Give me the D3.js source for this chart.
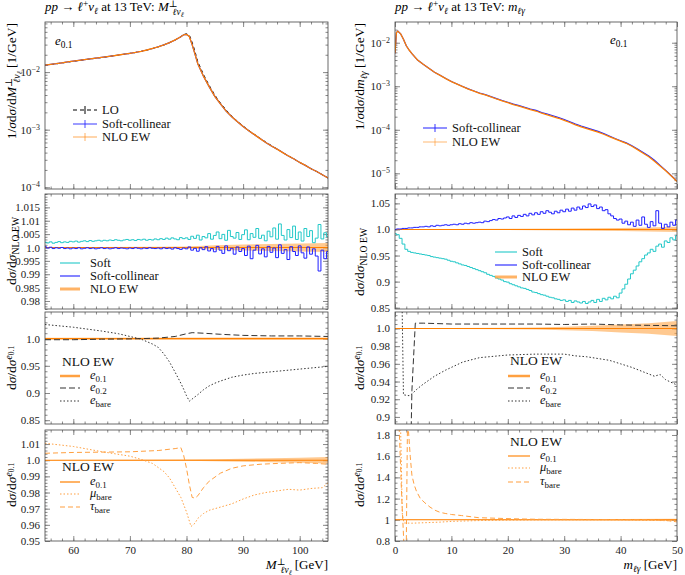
<!DOCTYPE html>
<html>
<head>
<meta charset="utf-8">
<script src="https://cdn.jsdelivr.net/npm/d3@7"></script>
<style>
body { margin: 0; background: #fff; }
svg, text, tspan { font-family: "Liberation Serif", "DejaVu Serif", serif; }
</style>
</head>
<body>
<script>
// ---- data ----
// top left: 1/sigma dsigma/dM_T
var mtX   = [55,56,57,58,59,60,61,62,63,64,65,66,67,68,69,70,71,72,73,74,75,76,77,78,79,79.5,80,80.5,81,81.5,82,83,84,85,86,87,88,89,90,91,92,93,94,95,96,97,98,99,100,101,102,103,104,105];
var mtNLO = [.0132,.0136,.0140,.0145,.0150,.0155,.0160,.0165,.0170,.0175,.0180,.0186,.0192,.0198,.0205,.0212,.0220,.0230,.0242,.0257,.0275,.0297,.0325,.0362,.0410,.0445,.0452,.0415,.0300,.0205,.0140,.0085,.0056,.0038,.0028,.0021,.00168,.00137,.00114,.00096,.00082,.00070,.00060,.00052,.00046,.00040,.00035,.00031,.00027,.00024,.00021,.000188,.000165,.000145];
var mtSC  = [.0132,.0136,.0140,.0145,.0150,.0155,.0160,.0165,.0170,.0175,.0180,.0186,.0192,.0198,.0205,.0212,.0220,.0230,.0242,.0257,.0275,.0297,.0325,.0362,.0410,.0445,.0452,.0415,.0300,.0205,.0140,.0085,.0056,.0038,.0028,.0021,.00168,.00137,.00114,.00096,.00082,.00070,.00060,.00052,.00046,.00040,.00035,.00031,.00027,.00024,.00021,.000188,.000165,.000145];
var mtLO  = [.0131,.0135,.0139,.0144,.0149,.0154,.0159,.0164,.0169,.0174,.0179,.0185,.0191,.0197,.0204,.0211,.0219,.0229,.0241,.0256,.0274,.0296,.0324,.0361,.0412,.0450,.0462,.0440,.0330,.0228,.0152,.0091,.0059,.0040,.0029,.0022,.00172,.00140,.00116,.00097,.00083,.00071,.00061,.00053,.00046,.00040,.00035,.00031,.00027,.00024,.00021,.000188,.000165,.000145];

// top right: 1/sigma dsigma/dm_lgamma
var mlgX   = [0,0.25,0.5,1,1.5,2,2.5,3,4,5,6,7,8,9,10,11,12,13,14,15,16,17,18,19,20,21,22,23,24,25,26,27,28,29,30,31,32,33,34,35,36,37,38,39,40,41,42,43,44,45,46,47,48,49,50];
var mlgNLO = [.0057,.0170,.0185,.0160,.0120,.0085,.0068,.0056,.0040,.0032,.0026,.0021,.00178,.00150,.00128,.00112,.00098,.00086,.00077,.00069,.00063,.00057,.00051,.00046,.00042,.00038,.00035,.00032,.00029,.00027,.00024,.00022,.00020,.000184,.000165,.000147,.000130,.000117,.000106,.000097,.000088,.000079,.000070,.000062,.000055,.000049,.000042,.000035,.000029,.000024,.000019,.0000148,.0000115,.0000087,.0000065];
var mlgSC  = [.0057,.0170,.0185,.0160,.0120,.0085,.0068,.0056,.0040,.0032,.0026,.0021,.00179,.00151,.00129,.00113,.00099,.00087,.00078,.00070,.00064,.00058,.00052,.00047,.00043,.00039,.00036,.00033,.00030,.00028,.00025,.00023,.00021,.000192,.000172,.000153,.000136,.000122,.000111,.000101,.000092,.000082,.000072,.000063,.000056,.000050,.000043,.000036,.000030,.000025,.000020,.0000152,.0000117,.0000088,.0000066];

// ratio to NLO EW, left (M_T, 0.5 GeV bins 55..105)
var mtSoft = [
  1.0020,1.0017,1.0021,1.0016,1.0019,1.0022,1.0018,1.0021,1.0019,1.0023,
  1.0021,1.0024,1.0020,1.0023,1.0025,1.0022,1.0026,1.0023,1.0025,1.0027,
  1.0024,1.0027,1.0025,1.0028,1.0026,1.0029,1.0027,1.0025,1.0028,1.0030,
  1.0027,1.0029,1.0026,1.0030,1.0028,1.0031,1.0027,1.0030,1.0028,1.0032,
  1.0029,1.0033,1.0030,1.0035,1.0031,1.0036,1.0032,1.0029,1.0037,1.0033,
  1.0036,1.0030,1.0042,1.0034,1.0046,1.0028,1.0041,1.0036,1.0052,1.0031,
  1.0045,1.0058,1.0033,1.0049,1.0027,1.0064,1.0041,1.0035,1.0056,1.0030,
  1.0048,1.0066,1.0029,1.0052,1.0038,1.0071,1.0034,1.0046,1.0025,1.0061,
  1.0040,1.0073,1.0031,1.0088,1.0045,1.0028,1.0067,1.0037,1.0080,1.0030,
  1.0058,1.0024,1.0071,1.0041,1.0063,1.0018,1.0035,1.0086,1.0032,1.0055,
  1.0040];
var mtSoftColl = [
  1.0003,0.9998,1.0001,0.9996,0.9999,0.9997,1.0000,0.9996,0.9998,0.9995,
  0.9998,0.9996,0.9999,0.9995,0.9997,0.9999,0.9996,0.9998,0.9995,0.9997,
  0.9999,0.9996,0.9998,0.9995,0.9997,0.9999,0.9996,0.9998,0.9997,0.9995,
  0.9998,0.9996,0.9999,0.9997,0.9995,0.9998,0.9996,0.9999,0.9997,0.9996,
  0.9998,0.9995,0.9999,0.9996,0.9998,0.9994,0.9999,0.9996,0.9993,0.9998,
  0.9995,1.0002,0.9990,0.9997,0.9986,0.9999,0.9992,1.0003,0.9987,0.9996,
  0.9984,1.0004,0.9990,0.9978,1.0006,0.9988,0.9997,0.9975,1.0002,0.9985,
  0.9996,0.9970,1.0005,0.9958,0.9990,1.0008,0.9976,0.9995,0.9965,1.0004,
  0.9982,0.9998,0.9962,1.0010,0.9978,0.9992,0.9955,1.0003,0.9985,0.9970,
  1.0006,0.9980,0.9960,1.0002,0.9975,0.9995,0.9968,0.9912,0.9990,0.9958,
  0.9985];
var mtErrX = [55,65,75,80,85,90,95,100,105];
var mtErr  = [0.0002,0.0002,0.0003,0.0004,0.0008,0.0011,0.0013,0.0015,0.0017];

// ratio to NLO EW, right (m_lgamma, 0.5 GeV bins 0..50)
var mlgSoft = [
  0.992,0.990,0.983,0.972,0.962,0.958,0.956,0.955,0.954,0.953,
  0.952,0.951,0.950,0.948,0.947,0.946,0.945,0.944,0.943,0.941,
  0.939,0.938,0.936,0.934,0.932,0.931,0.929,0.927,0.925,0.923,
  0.921,0.919,0.917,0.914,0.912,0.910,0.907,0.905,0.903,0.900,
  0.899,0.896,0.894,0.892,0.890,0.888,0.887,0.885,0.883,0.880,
  0.879,0.877,0.875,0.874,0.872,0.870,0.869,0.867,0.866,0.864,
  0.865,0.862,0.864,0.860,0.863,0.861,0.859,0.862,0.858,0.861,
  0.864,0.860,0.866,0.862,0.868,0.865,0.870,0.867,0.872,0.869,
  0.878,0.886,0.895,0.905,0.915,0.922,0.930,0.938,0.944,0.951,
  0.955,0.962,0.958,0.968,0.972,0.966,0.978,0.975,0.984,0.980,
  0.988];
var mlgSoftColl = [
  1.000,1.001,1.001,1.002,1.002,1.003,1.003,1.004,1.004,1.005,
  1.005,1.006,1.005,1.007,1.006,1.008,1.007,1.008,1.009,1.008,
  1.009,1.010,1.009,1.011,1.010,1.012,1.011,1.013,1.012,1.013,
  1.014,1.013,1.016,1.015,1.017,1.019,1.018,1.021,1.020,1.022,
  1.024,1.021,1.026,1.023,1.027,1.025,1.029,1.026,1.031,1.028,
  1.032,1.029,1.034,1.031,1.036,1.033,1.030,1.035,1.032,1.037,
  1.034,1.039,1.035,1.041,1.037,1.043,1.039,1.045,1.042,1.049,
  1.044,1.047,1.040,1.043,1.036,1.038,1.030,1.026,1.021,1.018,
  1.020,1.012,1.016,1.009,1.014,1.006,1.018,1.008,1.024,1.010,
  1.004,1.015,1.007,1.036,1.012,1.002,1.010,1.005,1.014,1.008,
  1.018];
var mlgErrX = [0,10,20,30,35,40,45,50];
var mlgErr  = [0.0005,0.0008,0.0012,0.0018,0.0025,0.003,0.004,0.005];

// ratio to e_0.1, left
var eL02X    = [55,60,65,70,72,75,78,80,81,83,86,90,95,100,105];
var eL02     = [0.998,0.998,0.999,0.9995,1.0,1.001,1.004,1.009,1.011,1.010,1.008,1.006,1.005,1.005,1.004];
var eLbareX  = [55,60,65,68,70,72,74,75,76,77,78,79,79.5,80,80.5,81,82,83,84,85,86,88,90,92,94,96,98,100,102,104,105];
var eLbare   = [1.026,1.021,1.014,1.009,1.004,0.999,0.990,0.984,0.972,0.957,0.938,0.918,0.907,0.895,0.885,0.889,0.897,0.906,0.913,0.918,0.922,0.929,0.933,0.936,0.938,0.940,0.942,0.944,0.946,0.948,0.949];
var eLErrX   = [55,105];
var eLErr    = [0.0015,0.002];

// ratio to e_0.1, right
var eR02X    = [0.5,2.6,3.0,3.6,5,10,15,20,25,30,35,40,45,50];
var eR02     = [0.80,0.80,0.93,1.006,1.006,1.005,1.005,1.005,1.005,1.0045,1.005,1.004,1.0035,1.003];
var eRbareX  = [0.5,1.2,1.5,2.5,3,4,5,7,9,12,15,20,25,30,32,34,36,38,40,42,44,46,47,48,50];
var eRbare   = [1.05,1.05,0.925,0.924,0.926,0.932,0.937,0.946,0.953,0.962,0.967,0.970,0.971,0.971,0.969,0.968,0.966,0.964,0.960,0.956,0.951,0.946,0.948,0.942,0.936];
var eRErrX   = [0,10,20,25,30,35,40,45,50];
var eRErr    = [0.0003,0.0005,0.0008,0.0012,0.002,0.003,0.0045,0.006,0.0085];

// lepton flavours, left
var muLX  = [55,60,65,70,72,74,76,77,78,79,80,80.8,81.5,82,83,84,86,88,90,92,94,96,98,100,102,104,105];
var muL   = [1.0105,1.0085,1.0053,1.0025,1.0005,0.998,0.993,0.989,0.983,0.977,0.968,0.959,0.961,0.964,0.967,0.969,0.971,0.973,0.976,0.9785,0.980,0.981,0.982,0.9815,0.9825,0.983,0.986];
var tauLX = [55,60,65,70,75,78,79,79.5,80,80.5,81,81.5,82,83,84,86,88,90,93,96,100,103,105];
var tauL  = [1.0043,1.0048,1.005,1.0052,1.006,1.0072,1.0078,1.003,0.995,0.985,0.977,0.9765,0.978,0.983,0.987,0.992,0.995,0.9965,0.9975,0.998,0.9985,0.998,0.9975];
var flErrLX = [55,70,80,85,90,95,100,105];
var flErrL  = [0.0002,0.0003,0.0004,0.0006,0.0009,0.0012,0.0015,0.002];

// lepton flavours, right
var muRX  = [0.25,1.0,1.3,1.6,3,5,8,10,15,20,25,30,35,40,45,50];
var muR   = [1.85,1.85,1.05,0.97,0.968,0.972,0.978,0.985,0.993,0.997,0.999,1.0,1.0,1.0,0.995,0.99];
var tauRX = [0.25,0.75,1.2,1.6,2.0,2.2,2.4,2.7,3.0,3.4,3.8,4.5,5.3,6.2,7.1,8.0,8.9,10,11.8,14.8,20.7,25,30,35,40,45,48,50];
var tauR  = [1.85,1.85,1.2,0.75,0.75,1.85,1.83,1.6,1.42,1.33,1.27,1.20,1.16,1.12,1.09,1.07,1.06,1.05,1.04,1.02,1.01,1.005,1.004,1.003,1.002,1.0,0.995,0.98];
var flErrRX = [0,10,20,30,40,50];
var flErrR  = [0.002,0.003,0.004,0.006,0.008,0.01];

// tick labels
var p2LTicks = [0.98,0.985,0.99,0.995,1.0,1.005,1.01,1.015];
var p2LLabels = ['0.98','0.985','0.99','0.995','1.0','1.005','1.01','1.015'];
var p2RTicks = [0.85,0.9,0.95,1.0,1.05];
var p2RLabels = ['0.85','0.9','0.95','1.0','1.05'];
var p3LTicks = [0.85,0.9,0.95,1.0];
var p3LLabels = ['0.85','0.9','0.95','1.0'];
var p3RTicks = [0.9,0.92,0.94,0.96,0.98,1.0];
var p3RLabels = ['0.9','0.92','0.94','0.96','0.98','1.0'];
var p4LTicks = [0.95,0.96,0.97,0.98,0.99,1.0,1.01];
var p4LLabels = ['0.95','0.96','0.97','0.98','0.99','1.0','1.01'];
var p4RTicks = [0.8,1,1.2,1.4,1.6,1.8];
var p4RLabels = ['0.8','1','1.2','1.4','1.6','1.8'];

// ---- layout ----
var W = 685, H = 575;
var FONT = '"Liberation Serif", "DejaVu Serif", serif';
var colL = {x0: 45, x1: 328, dom: [55, 105], ticks: [60,70,80,90,100], minor: 2};
var colR = {x0: 395, x1: 677, dom: [0, 50], ticks: [0,10,20,30,40,50], minor: 2};
var rows = [[22,189],[194,309],[312,424],[430,541]];

var cOrange = '#ff8000', cBand = 'rgba(255,165,70,0.6)', cLight = '#ffa040',
    cBlue = '#1f1fff', cCyan = '#22c8c8', cGray = '#333';

var svg = d3.select('body').append('svg').attr('width', W).attr('height', H)
  .attr('font-family', FONT);
var clipCount = 0;

function minorTicks(dom, step) {
  var out = [];
  for (var k = Math.ceil(dom[0] / step - 1e-9); k * step <= dom[1] + 1e-9; k++) out.push(+(k * step).toFixed(6));
  return out;
}
function logMinor(dom) {
  var out = [];
  for (var e = Math.floor(Math.log10(dom[0])); e <= Math.ceil(Math.log10(dom[1])); e++)
    for (var m = 1; m < 10; m++) { var v = m * Math.pow(10, e); if (v >= dom[0] && v <= dom[1]) out.push(v); }
  return out;
}

// text with italic / sub / sup pieces
function rich(t, parts) {
  var cur = 0;
  t.attr('font-family', FONT);
  parts.forEach(function(p) {
    var off = p.o || 0;
    var s = t.append('tspan').text(p.t).attr('dy', off - cur);
    cur = off;
    if (p.i) s.attr('font-style', 'italic');
    if (p.f) s.attr('font-size', p.f);
    if (p.dx) s.attr('dx', p.dx);
  });
  return t;
}

function panel(col, row, yc, showX) {
  var x = d3.scaleLinear().domain(col.dom).range([col.x0, col.x1]);
  var y = (yc.log ? d3.scaleLog() : d3.scaleLinear()).domain(yc.dom).range([row[1], row[0]]);
  var g = svg.append('g');
  var id = 'clip' + (clipCount++);
  g.append('clipPath').attr('id', id).append('rect')
    .attr('x', col.x0).attr('y', row[0]).attr('width', col.x1 - col.x0).attr('height', row[1] - row[0]);

  var yMinor = yc.log ? logMinor(yc.dom) : minorTicks(yc.dom, yc.minor);
  var xMinor = minorTicks(col.dom, col.minor);
  var blank = function() { return ''; };

  function ax(axis, tr, vals, size, fmt, pad) {
    var a = g.append('g').attr('transform', tr)
      .call(axis.tickValues(vals).tickSize(size).tickPadding(pad || 4).tickFormat(fmt || blank));
    a.select('.domain').remove();
    a.attr('font-family', FONT).attr('font-size', 11);
    a.selectAll('line').attr('stroke', '#8a8a8a');
    a.selectAll('text').attr('fill', '#222');
    return a;
  }
  // y axes (left labelled, right mirrored)
  var yl = ax(d3.axisLeft(y), 'translate(' + col.x0 + ',0)', yc.ticks, -5,
    function(d, i) { return yc.log ? '10' : yc.labels[i]; }, 5);
  if (yc.log) {
    yl.selectAll('.tick text').each(function(d) {
      var e = Math.round(Math.log10(d));
      d3.select(this).append('tspan').attr('dy', -4).attr('font-size', '0.72em').text('\u2212' + (-e));
    });
  }
  ax(d3.axisLeft(y), 'translate(' + col.x0 + ',0)', yMinor, -2.5);
  ax(d3.axisRight(y), 'translate(' + col.x1 + ',0)', yc.ticks, -5);
  ax(d3.axisRight(y), 'translate(' + col.x1 + ',0)', yMinor, -2.5);
  // x axes
  ax(d3.axisBottom(x), 'translate(0,' + row[1] + ')', col.ticks, -5,
    showX ? function(d) { return d; } : blank, 5);
  ax(d3.axisBottom(x), 'translate(0,' + row[1] + ')', xMinor, -2.5);
  ax(d3.axisTop(x), 'translate(0,' + row[0] + ')', col.ticks, -5);
  ax(d3.axisTop(x), 'translate(0,' + row[0] + ')', xMinor, -2.5);

  var plot = g.append('g').attr('clip-path', 'url(#' + id + ')');
  var frame = function() {
    g.append('rect').attr('x', col.x0).attr('y', row[0])
      .attr('width', col.x1 - col.x0).attr('height', row[1] - row[0])
      .attr('fill', 'none').attr('stroke', '#444').attr('stroke-width', 0.8);
  };
  return {x: x, y: y, g: g, plot: plot, frame: frame, col: col, row: row};
}

function series(p, xs, ys, stroke, opt) {
  opt = opt || {};
  var pts = xs.map(function(d, i) { return [d, ys[i]]; });
  p.plot.append('path').datum(pts)
    .attr('fill', 'none').attr('stroke', stroke)
    .attr('stroke-width', opt.w || 1)
    .attr('stroke-dasharray', opt.dash || null)
    .attr('d', d3.line().curve(opt.step ? d3.curveStep : d3.curveLinear)
      .x(function(d) { return p.x(d[0]); }).y(function(d) { return p.y(d[1]); }));
}
function band(p, xs, errs) {
  var pts = xs.map(function(d, i) { return [d, errs[i]]; });
  p.plot.append('path').datum(pts).attr('fill', cBand)
    .attr('d', d3.area().x(function(d) { return p.x(d[0]); })
      .y0(function(d) { return p.y(1 - d[1]); }).y1(function(d) { return p.y(1 + d[1]); }));
  p.plot.append('path').datum(p.x.domain())
    .attr('stroke', cOrange).attr('stroke-width', 1.1).attr('fill', 'none')
    .attr('d', function(d) { return 'M' + p.x(d[0]) + ',' + p.y(1) + 'H' + p.x(d[1]); });
}

// legend pieces; y is the row centre
function legLine(g, x, y, w, stroke, opt) {
  opt = opt || {};
  g.append('line').attr('x1', x).attr('x2', x + w).attr('y1', y).attr('y2', y)
    .attr('stroke', stroke).attr('stroke-width', opt.w || 1.1)
    .attr('stroke-dasharray', opt.dash || null).attr('stroke-opacity', opt.op || 1);
  if (opt.err) g.append('line').attr('x1', x + w / 2).attr('x2', x + w / 2)
    .attr('y1', y - 4).attr('y2', y + 4).attr('stroke', stroke).attr('stroke-opacity', opt.op || 1);
}
function legText(g, x, y, parts, size) {
  return rich(g.append('text').attr('x', x).attr('y', y + 4).attr('font-size', size || 12.5).attr('fill', '#111'), parts);
}
function legend(g, xl, xt, w, title, rowsY, items) {
  if (title) legText(g, xl + 2, title, [{t: 'NLO EW'}], 13.5).attr('y', title + 4);
  items.forEach(function(it, i) {
    legLine(g, xl, rowsY[i], w, it.c, it.opt);
    legText(g, xt, rowsY[i] - (it.sub ? 1 : 0), it.parts);
  });
}

function sub(t, it) { return {t: t, o: 3, f: '0.72em', i: it}; }
function sup(t, it) { return {t: t, o: -4.5, f: '0.72em', i: it}; }
var e01 = [{t: 'e', i: 1}, sub('0.1')], e02 = [{t: 'e', i: 1}, sub('0.2')], ebare = [{t: 'e', i: 1}, sub('bare')];
var mubare = [{t: '\u03bc', i: 1}, sub('bare')], taubare = [{t: '\u03c4', i: 1}, sub('bare')];

// ---- panels ----
// 1 left
var p = panel(colL, rows[0], {log: true, dom: [Math.pow(10, -4.03), Math.pow(10, -1.13)], ticks: [1e-4, 1e-3, 1e-2]});
series(p, mtX, mtLO, '#000', {dash: '3,3'});
series(p, mtX, mtSC, cBlue, {w: 1.2});
series(p, mtX, mtNLO, cOrange, {w: 1.3});
p.frame();
rich(p.g.append('text').attr('x', 55).attr('y', 45).attr('font-size', 13), e01);
legend(p.g, 73, 102, 24, null, [110, 124, 137], [
  {c: '#000', opt: {dash: '4,3', err: 1}, parts: [{t: 'LO'}]},
  {c: cBlue, opt: {err: 1, op: 0.8}, parts: [{t: 'Soft-collinear'}]},
  {c: cOrange, opt: {err: 1, op: 0.6}, parts: [{t: 'NLO EW'}]}]);

// 1 right
p = panel(colR, rows[0], {log: true, dom: [Math.pow(10, -5.36), Math.pow(10, -1.524)], ticks: [1e-5, 1e-4, 1e-3, 1e-2]});
series(p, mlgX, mlgSC, cBlue, {w: 1.2});
series(p, mlgX, mlgNLO, cOrange, {w: 1.3});
p.frame();
rich(p.g.append('text').attr('x', 610).attr('y', 44).attr('font-size', 13), e01);
legend(p.g, 423, 452, 24, null, [128, 142], [
  {c: cBlue, opt: {err: 1, op: 0.9}, parts: [{t: 'Soft-collinear'}]},
  {c: cOrange, opt: {err: 1, op: 0.5}, parts: [{t: 'NLO EW'}]}]);

// 2 left
var rX = d3.range(0, 101).map(function(i) { return 55 + i * 0.5; });
p = panel(colL, rows[1], {dom: [0.977, 1.020], ticks: p2LTicks, labels: p2LLabels, minor: 0.001});
band(p, mtErrX, mtErr);
series(p, rX, mtSoft, cCyan, {step: 1});
series(p, rX, mtSoftColl, cBlue, {step: 1});
p.frame();
legend(p.g, 60, 90, 20, null, [263, 276, 289], [
  {c: cCyan, parts: [{t: 'Soft'}]},
  {c: cBlue, parts: [{t: 'Soft-collinear'}]},
  {c: cLight, opt: {w: 3, op: 0.8}, parts: [{t: 'NLO EW'}]}]);

// 2 right
var rXr = d3.range(0, 101).map(function(i) { return i * 0.5; });
p = panel(colR, rows[1], {dom: [0.8475, 1.068], ticks: p2RTicks, labels: p2RLabels, minor: 0.01});
band(p, mlgErrX, mlgErr);
series(p, rXr, mlgSoft, cCyan, {step: 1});
series(p, rXr, mlgSoftColl, cBlue, {step: 1});
p.frame();
legend(p.g, 495, 522, 22, null, [252, 265, 277], [
  {c: cCyan, parts: [{t: 'Soft'}]},
  {c: cBlue, parts: [{t: 'Soft-collinear'}]},
  {c: cLight, opt: {w: 3, op: 0.8}, parts: [{t: 'NLO EW'}]}]);

// 3 left
p = panel(colL, rows[2], {dom: [0.843, 1.049], ticks: p3LTicks, labels: p3LLabels, minor: 0.01});
band(p, eLErrX, eLErr);
series(p, eL02X, eL02, cGray, {dash: '6,3'});
series(p, eLbareX, eLbare, cGray, {dash: '1.5,2'});
p.frame();
legend(p.g, 60, 90, 20, 362, [376, 388, 401], [
  {c: cLight, opt: {w: 2.5}, parts: e01, sub: 1},
  {c: cGray, opt: {dash: '6,3'}, parts: e02, sub: 1},
  {c: cGray, opt: {dash: '1.5,2'}, parts: ebare, sub: 1}]);

// 3 right
p = panel(colR, rows[2], {dom: [0.892, 1.0186], ticks: p3RTicks, labels: p3RLabels, minor: 0.005});
band(p, eRErrX, eRErr);
series(p, eR02X, eR02, cGray, {dash: '6,3'});
series(p, eRbareX, eRbare, cGray, {dash: '1.5,2'});
p.frame();
legend(p.g, 508, 540, 22, 361, [376, 388, 401], [
  {c: cLight, opt: {w: 2.5}, parts: e01, sub: 1},
  {c: cGray, opt: {dash: '6,3'}, parts: e02, sub: 1},
  {c: cGray, opt: {dash: '1.5,2'}, parts: ebare, sub: 1}]);

// 4 left
p = panel(colL, rows[3], {dom: [0.95, 1.0187], ticks: p4LTicks, labels: p4LLabels, minor: 0.002}, true);
band(p, flErrLX, flErrL);
series(p, muLX, muL, cLight, {dash: '1.5,2'});
series(p, tauLX, tauL, cLight, {dash: '5,3'});
p.frame();
legend(p.g, 60, 90, 20, 467, [482, 494, 507], [
  {c: cOrange, opt: {w: 1.2}, parts: e01, sub: 1},
  {c: cLight, opt: {dash: '1.5,2'}, parts: mubare, sub: 1},
  {c: cLight, opt: {dash: '5,3'}, parts: taubare, sub: 1}]);

// 4 right
p = panel(colR, rows[3], {dom: [0.8, 1.847], ticks: p4RTicks, labels: p4RLabels, minor: 0.05}, true);
band(p, flErrRX, flErrR);
series(p, muRX, muR, cLight, {dash: '1.5,2'});
series(p, tauRX, tauR, cLight, {dash: '5,3'});
p.frame();
legend(p.g, 508, 540, 22, 442, [456, 468, 482], [
  {c: cLight, opt: {w: 1.5}, parts: e01, sub: 1},
  {c: cLight, opt: {dash: '1.5,2'}, parts: mubare, sub: 1},
  {c: cLight, opt: {dash: '5,3'}, parts: taubare, sub: 1}]);

// ---- titles and axis labels ----
var mtLabel = [{t: 'M', i: 1}, sup('\u22a5'), {t: '\u2113\u03bd', i: 1, o: 3.5, f: '0.72em', dx: -5}, {t: '\u2113', i: 1, o: 5.5, f: '0.55em'}];
var mlgLabel = [{t: 'm', i: 1}, sub('\u2113\u03b3', 1)];
var proc = [{t: 'pp', i: 1}, {t: ' \u2192 '}, {t: '\u2113', i: 1}, sup('+'), {t: '\u03bd', i: 1}, sub('\u2113', 1)];

rich(svg.append('text').attr('x', 45).attr('y', 11).attr('font-size', 13),
  proc.concat([{t: ' at 13 TeV: '}]).concat(mtLabel));
rich(svg.append('text').attr('x', 395).attr('y', 11).attr('font-size', 13),
  proc.concat([{t: ' at 13 TeV: '}]).concat(mlgLabel));

rich(svg.append('text').attr('x', 328).attr('y', 569).attr('text-anchor', 'end').attr('font-size', 13),
  mtLabel.concat([{t: ' [GeV]'}]));
rich(svg.append('text').attr('x', 677).attr('y', 569).attr('text-anchor', 'end').attr('font-size', 13),
  mlgLabel.concat([{t: ' [GeV]'}]));

function yLabel(x, y, anchor, parts) {
  rich(svg.append('text').attr('transform', 'translate(' + x + ',' + y + ') rotate(-90)')
    .attr('text-anchor', anchor).attr('font-size', 13.5), parts);
}
var sig = {t: '\u03c3', i: 1};
yLabel(16, 23, 'end', [{t: '1/'}, sig, {t: 'd'}, sig, {t: '/d'}].concat(mtLabel).concat([{t: ' [1/GeV]'}]));
yLabel(364, 23, 'end', [{t: '1/'}, sig, {t: 'd'}, sig, {t: '/d'}].concat(mlgLabel).concat([{t: ' [1/GeV]'}]));
var rNLO = [{t: 'd'}, sig, {t: '/d'}, sig, sub('NLO EW')];
var rE = [{t: 'd'}, sig, {t: '/d'}, sig, sup('e', 1), {t: '0.1', o: -2.5, f: '0.55em'}];
yLabel(16, 251, 'middle', rNLO);
yLabel(364, 262, 'middle', rNLO);
yLabel(16, 368, 'middle', rE);
yLabel(364, 368, 'middle', rE);
yLabel(16, 485, 'middle', rE);
yLabel(364, 485, 'middle', rE);
</script>
</body>
</html>
